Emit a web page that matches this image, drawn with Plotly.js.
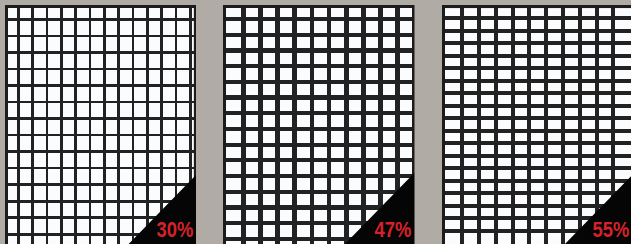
<!DOCTYPE html>
<html><head><meta charset="utf-8">
<script src="https://cdn.plot.ly/plotly-3.0.1.min.js"></script>
<style>html,body{margin:0;padding:0;background:#b1aba6;}#c{width:631px;height:244px;}</style>
</head><body><div id="c"></div>
<script>
// Data: open area of three mesh panels (percent)
const openness = [30, 47, 55];
const labels = openness.map(v => v + '%');

// Layout geometry (pixels) for each panel: plot-area edges, grid origin/spacing, line widths
const W = 631, H = 244;
const panels = [
  {left: 7.5, right: 193.6, top: 7.5, bw: 2.5, vx0: 18.3,  vdx: 14.33, hy0: 19.3, hdy: 16.54, vw: 2.6, hw: 2.6, triX: 126.7, triR: 196, tx: 193.5},
  {left: 226, right: 412.3, top: 7.6, bw: 2.6, vx0: 243.3, vdx: 17.16, hy0: 19.0, hdy: 15.7,  vw: 4.6, hw: 4.2, triX: 343,   triR: 414.5, tx: 411.8},
  {left: 445, right: 640,   top: 8.2, bw: 3.2, vx0: 462.3, vdx: 16.78, hy0: 18.3, hdy: 12.49, vw: 4.0, hw: 4.0, triX: 563,   triR: 631, tx: 629.6}
];
const LABEL_W = 36.8;

const traces = [], layout = {
  width: W, height: H, margin: {l: 0, r: 0, t: 0, b: 0},
  paper_bgcolor: '#b1aba6', plot_bgcolor: '#fafcfe', showlegend: false,
  shapes: [], annotations: []
};
const px = x => x / W, py = y => 1 - y / H;

panels.forEach((p, i) => {
  const n = i === 0 ? '' : String(i + 1);
  const r = Math.min(p.right, W);
  traces.push({x: [null], y: [null], xaxis: 'x' + n, yaxis: 'y' + n, type: 'scatter', mode: 'markers', hoverinfo: 'skip'});
  const ax = {
    showticklabels: false, ticks: '', zeroline: false, showgrid: true,
    gridcolor: '#222222', tick0: 0, dtick: 1, fixedrange: true,
    showline: true, linecolor: '#1c1c1c', linewidth: p.bw, mirror: true
  };
  layout['xaxis' + n] = Object.assign({}, ax, {
    domain: [px(p.left), px(r)], anchor: 'y' + n,
    range: [(p.left - p.vx0) / p.vdx, (r - p.vx0) / p.vdx],
    gridwidth: p.vw
  });
  layout['yaxis' + n] = Object.assign({}, ax, {
    domain: [0, py(p.top)], anchor: 'x' + n,
    range: [(H - p.hy0) / p.hdy, (p.top - p.hy0) / p.hdy],
    gridwidth: p.hw
  });
  // black corner triangle (45 degrees)
  const size = p.triR - p.triX;
  layout.shapes.push({
    type: 'path', xref: 'paper', yref: 'paper', layer: 'above',
    path: `M ${px(p.triX)} ${py(H + 2)} L ${px(p.triR + 10)} ${py(H - size - 10)} L ${px(p.triR + 10)} ${py(H + 2)} Z`,
    fillcolor: '#050505', line: {width: 0}
  });
  layout.annotations.push({
    xref: 'paper', yref: 'paper', x: px(p.tx - LABEL_W / 2), y: py(229.6),
    xanchor: 'center', yanchor: 'middle', showarrow: false, text: labels[i],
    font: {family: '"Liberation Sans", Arial, sans-serif', size: 22, weight: 700, color: '#d6212a'},
    borderpad: 0
  });
});
// keep the triangles inside each panel's right border
panels.slice(0, 2).forEach(p => {
  layout.shapes.push({
    type: 'rect', xref: 'paper', yref: 'paper', layer: 'above',
    x0: px(p.triR), x1: px(p.triR + 12), y0: 0, y1: 1,
    fillcolor: '#b1aba6', line: {width: 0}
  });
});

Plotly.newPlot('c', traces, layout, {staticPlot: true, displayModeBar: false}).then(gd => {
  // condensed bold look of the original labels: squeeze each label horizontally about its centre
  gd.querySelectorAll('text.annotation-text').forEach(t => {
    const len = t.getComputedTextLength();
    const cx = parseFloat(t.getAttribute('x')) || 0;
    const s = LABEL_W / len;
    const prev = t.getAttribute('transform') || '';
    t.setAttribute('transform', `${prev} translate(${cx},0) scale(${s},1) translate(${-cx},0)`);
  });
});
</script></body></html>
